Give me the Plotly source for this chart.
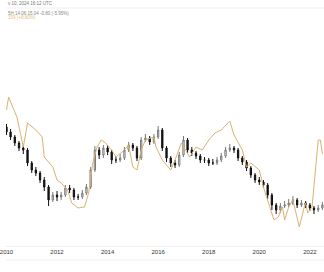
import plotly.graph_objects as go
import pandas as pd

# ---- data (bi-monthly candles, index values) ----
candle_dates = pd.date_range("2010-01-01", periods=76, freq="2MS").strftime("%Y-%m-%d").tolist()
closes = [140,135,129,124,122,109,102,99,92,85,72,77,75,77,84,82,75,75,79,85,
          102,122,117,124,120,112,112,114,122,127,124,114,132,134,130,135,142,124,114,109,
          107,117,132,122,119,116,112,112,109,109,112,116,122,124,122,114,110,104,97,92,
          90,87,77,67,62,66,67,69,72,67,69,67,64,62,64,67]
highs = [148,143,137,131,127,124,111,105,101,95,87,80,81,80,87,87,84,78,82,88,
         105,126,125,127,127,122,116,118,125,130,129,126,135,138,136,138,146,144,126,116,
         112,120,136,134,125,121,118,115,114,113,115,119,125,128,126,124,116,112,106,99,
         95,92,89,79,69,69,71,73,76,74,72,71,69,66,67,70]
lows = [137,132,126,121,118,106,99,96,89,81,66,70,71,72,75,79,72,72,73,77,
        83,100,113,114,117,108,109,110,112,120,121,111,112,130,127,128,133,121,110,105,
        104,105,115,119,116,113,109,109,106,107,107,110,114,120,119,111,107,101,94,89,
        87,84,73,62,58,59,64,65,67,64,65,64,61,58,60,62]
first_open = 145
opens = [first_open] + closes[:-1]

line_dates = ["2010-01","2010-02","2010-04","2010-06","2010-09","2010-11","2011-03","2011-06","2011-07","2011-11",
              "2012-01","2012-03","2012-06","2012-08","2012-11","2013-02","2013-04","2013-06","2013-08","2013-10",
              "2013-12","2014-03","2014-05","2014-09","2014-11","2015-01","2015-03","2015-05","2015-07","2015-11",
              "2015-12","2016-03","2016-07","2016-09","2016-12","2017-02","2017-04","2017-07","2017-10","2018-01",
              "2018-04","2018-07","2018-11","2019-01","2019-05","2019-07","2019-09","2020-01","2020-03","2020-06",
              "2020-08","2020-10","2020-12","2021-01","2021-03","2021-05","2021-07","2021-08","2021-10","2021-11",
              "2021-12","2022-02","2022-04","2022-05","2022-06","2022-07"]
line_values = [162,175,165,155,125,149,142,135,115,105,
               92,89,82,69,64,65,79,109,125,132,
               129,122,115,122,127,105,102,122,132,135,
               125,112,102,112,129,122,115,125,122,132,
               139,142,151,137,122,105,109,102,85,65,
               52,55,65,52,65,72,55,45,62,69,
               59,65,109,132,132,118]

header_line1 = "v 10, 2024 16:12 UTC"
header_line2 = "5H 14.06 15.04 -0.80 (-5.95%)"
header_line3 = "159 (+8.80%)"

W, H = 324, 272
MB = 26
PH = H - MB

fig = go.Figure()
fig.add_trace(go.Scatter(x=line_dates, y=line_values, mode="lines",
                         line=dict(color="#dbb170", width=1), hoverinfo="skip"))
fig.add_trace(go.Candlestick(x=candle_dates, open=opens, high=highs, low=lows, close=closes,
                             increasing=dict(line=dict(color="#7a7a7a", width=1), fillcolor="#ffffff"),
                             decreasing=dict(line=dict(color="#111111", width=1), fillcolor="#111111"),
                             whiskerwidth=0, hoverinfo="skip"))

def py(p):
    return (PH - p) / PH

fig.update_layout(
    width=W, height=H, margin=dict(l=0, r=0, t=0, b=MB),
    paper_bgcolor="white", plot_bgcolor="white", showlegend=False,
    boxgap=0.55,
    xaxis=dict(type="date", range=["2009-12-25", "2022-07-24"], rangeslider=dict(visible=False),
               tick0="2010-01-01", dtick="M24", tickformat="%Y", showgrid=False, zeroline=False,
               showline=True, linecolor="#efefef", linewidth=1, ticks="",
               tickfont=dict(family="Liberation Sans, Arial", size=6, color="#333333"),
               ticklabeloverflow="allow"),
    yaxis=dict(range=[H - PH, H], visible=False, showgrid=False, fixedrange=True),
    shapes=[
        dict(type="line", xref="paper", yref="paper", x0=0, x1=1, y0=py(8), y1=py(8),
             line=dict(color="#f0f0f0", width=1)),
        dict(type="line", xref="paper", yref="paper", x0=0, x1=1, y0=py(260), y1=py(260),
             line=dict(color="#f0f0f0", width=1)),
    ],
    annotations=[
        dict(text=header_line1, xref="paper", yref="paper", x=0, y=py(4), xanchor="left", yanchor="middle",
             showarrow=False, font=dict(family="Liberation Sans, Arial", size=4.5, color="#777777")),
        dict(text=header_line2, xref="paper", yref="paper", x=0, y=py(13), xanchor="left", yanchor="middle",
             showarrow=False, font=dict(family="Liberation Sans, Arial", size=4.5, color="#888888")),
        dict(text=header_line3, xref="paper", yref="paper", x=0, y=py(17.5), xanchor="left", yanchor="middle",
             showarrow=False, font=dict(family="Liberation Sans, Arial", size=4.5, color="#e3bd78")),
    ],
)

fig.write_html("out.html", config={"displayModeBar": False})
